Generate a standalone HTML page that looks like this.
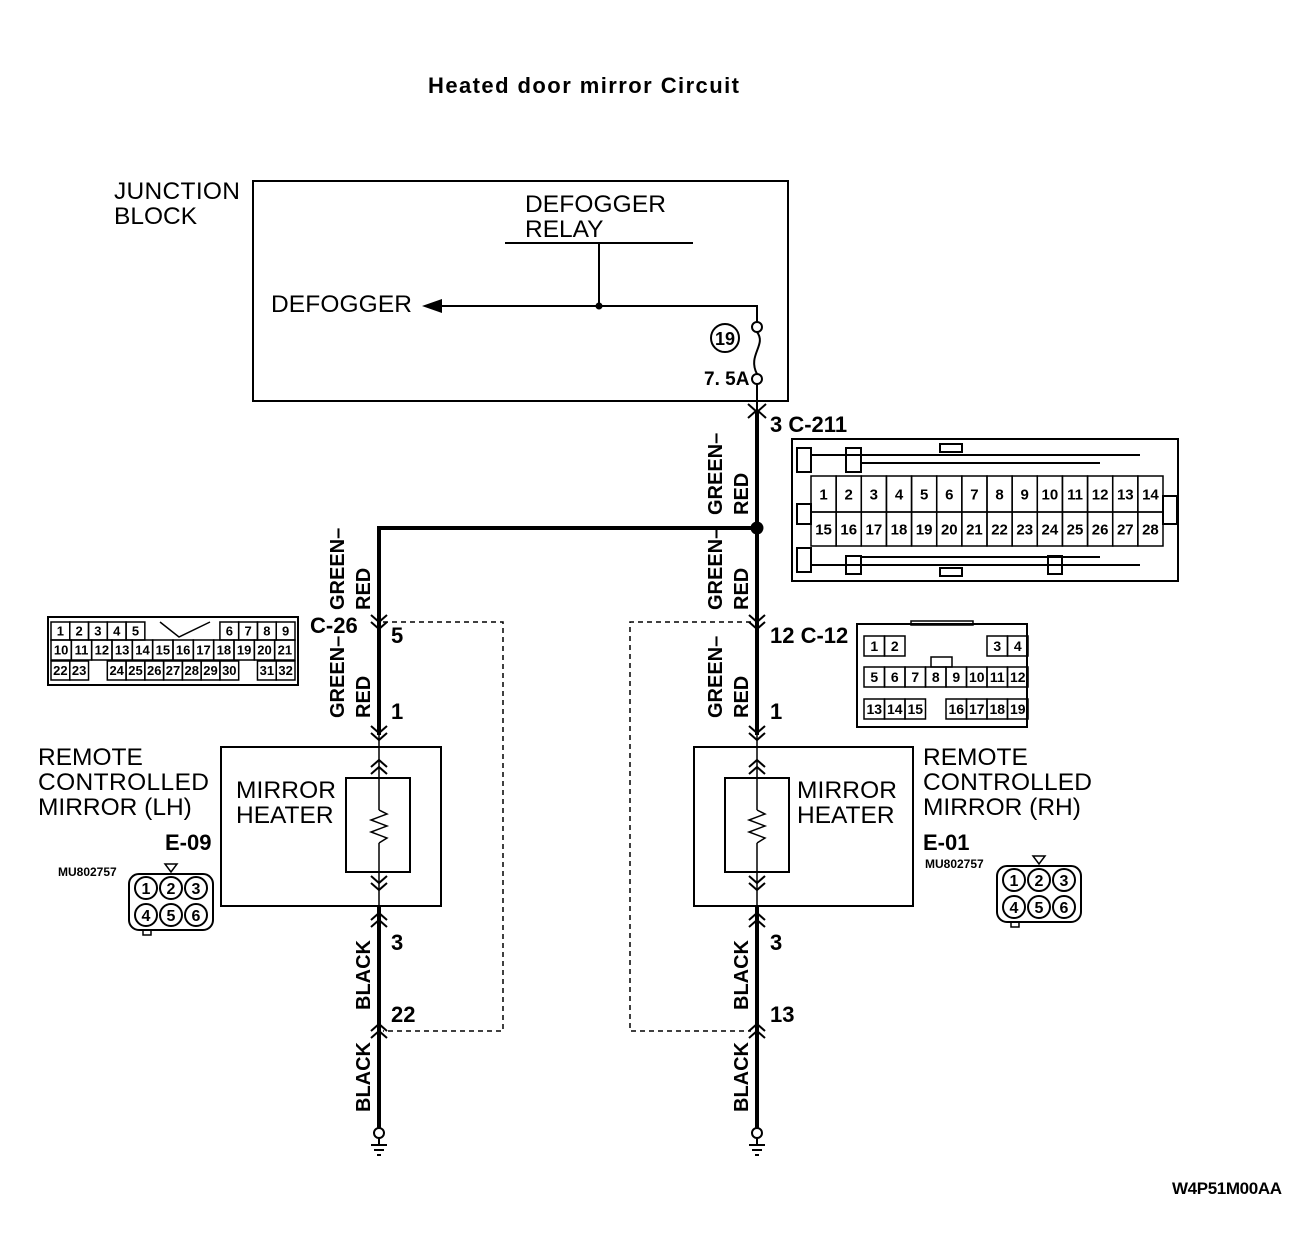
<!DOCTYPE html>
<html><head><meta charset="utf-8"><style>
html,body{margin:0;padding:0;background:#fff}
svg{display:block}
text{font-family:"Liberation Sans",sans-serif;fill:#000}
.b{font-weight:bold}
</style></head><body>
<svg id="s" width="1312" height="1234" viewBox="0 0 1312 1234" xmlns="http://www.w3.org/2000/svg" stroke="#000" fill="none">
<text x="428" y="93" class="b" font-size="22" textLength="311" stroke="none">Heated door mirror Circuit</text>
<text x="1172" y="1194" class="b" font-size="17" textLength="110" stroke="none">W4P51M00AA</text>

<!-- Junction block -->
<rect x="253" y="181" width="535" height="220" stroke-width="2"/>
<g font-size="24.5" stroke="none">
<text x="114" y="199" textLength="126">JUNCTION</text>
<text x="114" y="224">BLOCK</text>
<text x="525" y="212" textLength="141">DEFOGGER</text>
<text x="525" y="237">RELAY</text>
<text x="271" y="312" textLength="141">DEFOGGER</text>
</g>
<line x1="505" y1="243" x2="693" y2="243" stroke-width="2"/>
<line x1="599" y1="243" x2="599" y2="306" stroke-width="2"/>
<circle cx="599" cy="306" r="3" fill="#000"/>
<polyline points="757,322 757,306 440,306" stroke-width="2"/>
<polygon points="422,306 442,299 442,313" fill="#000" stroke="none"/>
<circle cx="757" cy="327" r="5" stroke-width="2" fill="#fff"/>
<path d="M757 332 C767 345,747 355,757 374" stroke-width="2"/>
<circle cx="757" cy="379" r="5" stroke-width="2" fill="#fff"/>
<circle cx="725" cy="338" r="14" stroke-width="2"/>
<text x="725" y="345" class="b" font-size="18" text-anchor="middle" stroke="none">19</text>
<text x="704" y="385" class="b" font-size="19" stroke="none">7. 5A</text>

<!-- main wires -->
<line x1="757" y1="384" x2="757" y2="412" stroke-width="2"/>
<polyline points="748,404 757,412 766,404" stroke-width="2"/>
<polyline points="748,418 757,410 766,418" stroke-width="2"/>
<line x1="757" y1="412" x2="757" y2="735" stroke-width="4"/>
<polyline points="379,735 379,528 757,528" stroke-width="4"/>
<circle cx="757" cy="528" r="6" fill="#000"/>
<text x="770" y="432" class="b" font-size="22" stroke="none">3 C-211</text>

<!-- rotated wire labels -->
<g stroke="none" class="b" font-size="20">
<text transform="translate(722,515) rotate(-90)">GREEN–</text>
<text transform="translate(748,515) rotate(-90)">RED</text>
<text transform="translate(722,610) rotate(-90)">GREEN–</text>
<text transform="translate(748,610) rotate(-90)">RED</text>
<text transform="translate(722,718) rotate(-90)">GREEN–</text>
<text transform="translate(748,718) rotate(-90)">RED</text>
<text transform="translate(344,610) rotate(-90)">GREEN–</text>
<text transform="translate(370,610) rotate(-90)">RED</text>
<text transform="translate(344,718) rotate(-90)">GREEN–</text>
<text transform="translate(370,718) rotate(-90)">RED</text>
<text transform="translate(370,1010) rotate(-90)">BLACK</text>
<text transform="translate(370,1112) rotate(-90)">BLACK</text>
<text transform="translate(748,1010) rotate(-90)">BLACK</text>
<text transform="translate(748,1112) rotate(-90)">BLACK</text>
</g>

<g id="chev"></g>

<!-- labels -->
<g stroke="none" class="b" font-size="22">
<text x="310" y="633">C-26</text>
<text x="391" y="643">5</text>
<text x="391" y="719">1</text>
<text x="391" y="950">3</text>
<text x="391" y="1022">22</text>
<text x="770" y="643">12 C-12</text>
<text x="770" y="719">1</text>
<text x="770" y="950">3</text>
<text x="770" y="1022">13</text>
<text x="165" y="850">E-09</text>
<text x="923" y="850">E-01</text>
</g>
<g stroke="none" font-size="24.5">
<text x="38" y="765">REMOTE</text>
<text x="38" y="790" textLength="171">CONTROLLED</text>
<text x="38" y="815">MIRROR (LH)</text>
<text x="923" y="765">REMOTE</text>
<text x="923" y="790" textLength="169">CONTROLLED</text>
<text x="923" y="815">MIRROR (RH)</text>
<text x="236" y="798" textLength="100">MIRROR</text>
<text x="236" y="823">HEATER</text>
<text x="797" y="798" textLength="100">MIRROR</text>
<text x="797" y="823">HEATER</text>
</g>
<g stroke="none" class="b" font-size="12">
<text x="58" y="876">MU802757</text>
<text x="925" y="868">MU802757</text>
</g>

<!-- dashed boxes -->
<polyline points="383,622 503,622 503,1031 383,1031" stroke-dasharray="5,4" stroke-width="1.5"/>
<polyline points="751,622 630,622 630,1031 751,1031" stroke-dasharray="5,4" stroke-width="1.5"/>

<!-- mirror boxes -->
<rect x="221" y="747" width="220" height="159" stroke-width="2"/>
<rect x="694" y="747" width="219" height="159" stroke-width="2"/>
<rect x="346" y="778" width="64" height="94" stroke-width="2"/>
<rect x="725" y="778" width="64" height="94" stroke-width="2"/>
<g stroke-width="1.5">
<line x1="379" y1="735" x2="379" y2="810"/><line x1="379" y1="843" x2="379" y2="905"/>
<polyline points="379,810 387,814 371,820 387,826 371,832 387,838 379,843"/>
<line x1="757" y1="735" x2="757" y2="810"/><line x1="757" y1="843" x2="757" y2="905"/>
<polyline points="757,810 765,814 749,820 765,826 749,832 765,838 757,843"/>
</g>
<line x1="379" y1="905" x2="379" y2="1128" stroke-width="4"/>
<line x1="757" y1="905" x2="757" y2="1128" stroke-width="4"/>
<!-- grounds -->
<g stroke-width="2">
<circle cx="379" cy="1133" r="5"/><line x1="379" y1="1138" x2="379" y2="1145"/>
<line x1="371" y1="1145" x2="387" y2="1145"/><line x1="374" y1="1150" x2="384" y2="1150"/><line x1="377" y1="1155" x2="381" y2="1155"/>
<circle cx="757" cy="1133" r="5"/><line x1="757" y1="1138" x2="757" y2="1145"/>
<line x1="749" y1="1145" x2="765" y2="1145"/><line x1="752" y1="1150" x2="762" y2="1150"/><line x1="755" y1="1155" x2="759" y2="1155"/>
</g>

<!-- C-211 connector -->
<g stroke-width="2">
<rect x="792" y="439" width="386" height="142"/>
<rect x="797" y="448" width="14" height="24"/><rect x="797" y="504" width="14" height="20"/><rect x="797" y="548" width="14" height="24"/>
<rect x="846" y="448" width="15" height="24"/><rect x="846" y="556" width="15" height="18"/><rect x="1048" y="556" width="14" height="18"/>
<line x1="811" y1="455" x2="1140" y2="455"/><line x1="861" y1="463" x2="1100" y2="463"/>
<line x1="811" y1="565" x2="1140" y2="565"/><line x1="861" y1="557" x2="1100" y2="557"/>
<rect x="940" y="444" width="22" height="8"/><rect x="940" y="568" width="22" height="8"/>
<rect x="1163" y="496" width="14" height="28"/>
</g>
<g id="c211"></g>

<!-- C-12 connector -->
<rect x="857" y="624" width="170" height="103" stroke-width="2"/>
<rect x="911" y="621" width="62" height="4" stroke-width="1.5"/>
<g id="c12"></g>

<!-- C-26 connector -->
<rect x="48" y="617" width="250" height="68" stroke-width="2"/>
<g id="c26"></g>

<!-- mirror connectors -->
<g id="mc"></g>
</svg>
<script>
var NS="http://www.w3.org/2000/svg";
function el(p,t,a,txt){var e=document.createElementNS(NS,t);for(var k in a)e.setAttribute(k,a[k]);if(txt!==undefined)e.textContent=txt;document.getElementById(p).appendChild(e);return e;}
function cell(p,x,y,w,h,t,fs){el(p,"rect",{x:x,y:y,width:w,height:h,"stroke-width":1.5});el(p,"text",{x:x+w/2,y:y+h/2+fs*0.36,"text-anchor":"middle","font-size":fs,"font-weight":"bold",stroke:"none"},t);}
function down(x,y){el("chev","polyline",{points:(x-8)+","+(y-7)+" "+x+","+y+" "+(x+8)+","+(y-7),"stroke-width":2});}
function up(x,y){el("chev","polyline",{points:(x-8)+","+(y+7)+" "+x+","+y+" "+(x+8)+","+(y+7),"stroke-width":2});}
[379,757].forEach(function(x){
 down(x,622);down(x,629);down(x,733);down(x,740);up(x,760);up(x,767);down(x,883);down(x,890);up(x,913);up(x,920);up(x,1024);up(x,1031);
});
var cw=(1163-811)/14;
for(var i=0;i<14;i++){cell("c211",811+i*cw,476,cw,36,""+(i+1),15);cell("c211",811+i*cw,512,cw,34,""+(i+15),15);}
var w=20.5,x0=861;
[[0,"1"],[1,"2"],[6,"3"],[7,"4"]].forEach(function(a){cell("c12",x0+a[0]*w+3,636,w,20,a[1],14);});
for(var i=0;i<8;i++)cell("c12",x0+i*w+3,667,w,20,""+(i+5),14);
[[0,"13"],[1,"14"],[2,"15"],[4,"16"],[5,"17"],[6,"18"],[7,"19"]].forEach(function(a){cell("c12",x0+a[0]*w+3,699,w,20,a[1],14);});
el("c12","rect",{x:931,y:657,width:21,height:10,"stroke-width":1.5});
var r1=["1","2","3","4","5","","","","","6","7","8","9"];
var xs=51;
for(var i=0;i<13;i++){ if(r1[i]!=="") cell("c26",xs+i*(244/13),622,244/13,18,r1[i],13);}
el("c26","polyline",{points:"160,622 179,637 210,622","stroke-width":1.5});
for(var i=0;i<12;i++) cell("c26",xs+i*(244/12),640,244/12,20,""+(i+10),13);
var r3=["22","23","","24","25","26","27","28","29","30","","31","32"];
for(var i=0;i<13;i++){ if(r3[i]!=="") cell("c26",xs+i*(244/13),661,244/13,19,r3[i],13);}
function mc(x,y){
 el("mc","rect",{x:x,y:y,width:84,height:56,rx:10,"stroke-width":2});
 el("mc","polygon",{points:(x+36)+","+(y-10)+" "+(x+48)+","+(y-10)+" "+(x+42)+","+(y-2),"stroke-width":1.5});
 el("mc","rect",{x:x+14,y:y+56,width:8,height:5,"stroke-width":1.5});
 for(var r=0;r<2;r++)for(var c=0;c<3;c++){
  var cx=x+17+c*25,cy=y+14+r*27;
  el("mc","circle",{cx:cx,cy:cy,r:11,"stroke-width":2});
  el("mc","text",{x:cx,y:cy+6,"text-anchor":"middle","font-size":16,"font-weight":"bold",stroke:"none"},""+(r*3+c+1));
 }
}
mc(129,874);mc(997,866);
</script>
</body></html>
